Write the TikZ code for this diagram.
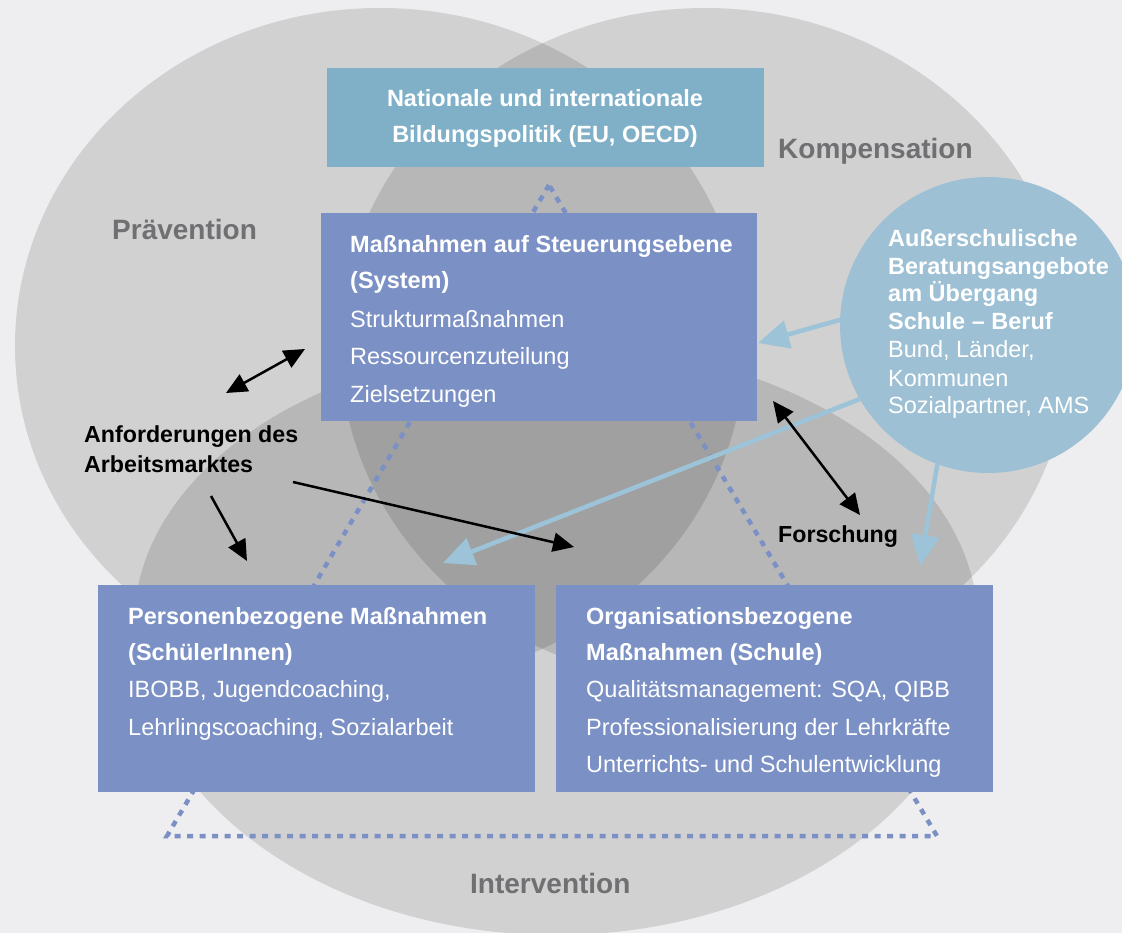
\documentclass[tikz,border=0pt]{standalone}
\usepackage{fontspec}
\setmainfont{Liberation Sans}
\usetikzlibrary{arrows.meta}
\definecolor{bgc}{HTML}{EEEEF0}
\definecolor{boxc}{HTML}{7B90C4}
\definecolor{natc}{HTML}{80B0C8}
\definecolor{ausc}{HTML}{9DC0D4}
\definecolor{lblue}{HTML}{9CC3D8}
\definecolor{grayt}{HTML}{707072}
\begin{document}
\begin{tikzpicture}[x=1pt,y=-1pt,
  venn/.style={fill=black, fill opacity=0.12},
  boxn/.style={fill=boxc, draw=none, inner sep=0pt, outer sep=0pt, anchor=north west},
  hd/.style={text=white, font=\fontsize{23.5}{28}\selectfont\bfseries, anchor=base west, inner sep=0pt},
  hdc/.style={hd, anchor=base},
  tx/.style={text=white, font=\fontsize{23.5}{28}\selectfont, anchor=base west, inner sep=0pt},
  grayl/.style={text=grayt, font=\fontsize{28}{32}\selectfont\bfseries, anchor=base west, inner sep=0pt},
  blk/.style={text=black, font=\fontsize{23.2}{28}\selectfont\bfseries, anchor=base west, inner sep=0pt},
  tri/.style={draw=boxc, line width=4.5pt, dash pattern=on 6pt off 6.5pt},
  barr/.style={draw=black, line width=2.5pt, -{Triangle[length=21pt,width=19pt]}},
  bbarr/.style={draw=black, line width=2.5pt, {Triangle[length=21pt,width=19pt]}-{Triangle[length=21pt,width=19pt]}},
  larr/.style={draw=lblue, line width=4.5pt, -{Triangle[length=31pt,width=28pt]}}
]
\useasboundingbox (0,0) rectangle (1122,933);
\fill[bgc] (0,0) rectangle (1122,933);
\clip (0,0) rectangle (1122,933);

% Venn shapes
\fill[venn] (380,346) ellipse [x radius=365, y radius=338];
\fill[venn] (705,346) ellipse [x radius=365, y radius=338];
\fill[venn] (134,625) arc[start angle=180, end angle=360, x radius=422, y radius=280]
   arc[start angle=0, end angle=180, x radius=422, y radius=310] -- cycle;

% Ausserschulische circle
\node[circle, fill=ausc, draw=none, minimum size=296pt, inner sep=0pt, outer sep=0pt] (aus) at (988,325) {};

% dotted triangle
\draw[tri] (549,185) -- (167,836) -- (937,836) -- cycle;

% coordinates for free arrow ends
\coordinate (p1) at (226,393);
\coordinate (p2) at (305,349);
\coordinate (p3) at (211,496);
\coordinate (p4) at (247,561);
\coordinate (p5) at (293,482);
\coordinate (p6) at (574,547);
\coordinate (p7) at (773,401);
\coordinate (p8) at (860,515);
\coordinate (q1) at (758,343);
\coordinate (q2) at (443,563);
\coordinate (q3) at (920,566);

% light blue arrows
\draw[larr] (aus.178.8) -- (q1);
\draw[larr] (aus.210.8) -- (q2);
\draw[larr] (aus.250.8) -- (q3);

% black arrows
\draw[bbarr] (p1) -- (p2);
\draw[barr] (p3) -- (p4);
\draw[barr] (p5) -- (p6);
\draw[bbarr] (p7) -- (p8);

% boxes
\node[boxn, fill=natc, minimum width=437pt, minimum height=99pt] (nat) at (327,68) {};
\node[boxn, minimum width=436pt, minimum height=208pt] (steu) at (321,213) {};
\node[boxn, minimum width=437pt, minimum height=207pt] (pers) at (98,585) {};
\node[boxn, minimum width=437pt, minimum height=207pt] (orga) at (556,585) {};

% texts
\node[hdc] (n1) at (545,107) {Nationale und internationale};
\node[hdc] (n2) at (545,143) {Bildungspolitik (EU, OECD)};

\node[hd] (s1) at (350,253) {Maßnahmen auf Steuerungsebene};
\node[hd] (s2) at (350,289) {(System)};
\node[tx] (s3) at (350,327) {Strukturmaßnahmen};
\node[tx] (s4) at (350,364) {Ressourcenzuteilung};
\node[tx] (s5) at (350,402) {Zielsetzungen};

\node[hd] (r1) at (128,624) {Personenbezogene Maßnahmen};
\node[hd] (r2) at (128,660) {(SchülerInnen)};
\node[tx] (r3) at (128,697) {IBOBB, Jugendcoaching,};
\node[tx] (r4) at (128,735) {Lehrlingscoaching, Sozialarbeit};

\node[hd] (o1) at (586,624) {Organisationsbezogene};
\node[hd] (o2) at (586,660) {Maßnahmen (Schule)};
\node[tx] (o3) at (586,697) {Qualitätsmanagement: SQA, QIBB};
\node[tx] (o4) at (586,735) {Professionalisierung der Lehrkräfte};
\node[tx] (o5) at (586,772) {Unterrichts- und Schulentwicklung};

\node[hd] (u1) at (888,247) {Außerschulische};
\node[hd] (u2) at (888,275) {Beratungsangebote};
\node[hd] (u3) at (888,302) {am Übergang};
\node[hd] (u4) at (888,330) {Schule – Beruf};
\node[tx] (u5) at (888,358) {Bund, Länder,};
\node[tx] (u6) at (888,386) {Kommunen};
\node[tx] (u7) at (888,413) {Sozialpartner, AMS};

\node[grayl] (g1) at (112,240) {Prävention};
\node[grayl] (g2) at (778,159) {Kompensation};
\node[grayl] (g3) at (470,893) {Intervention};

\node[blk] (k1) at (84,442) {Anforderungen des};
\node[blk] (k2) at (84,472) {Arbeitsmarktes};
\node[blk] (k3) at (778,542) {Forschung};
\end{tikzpicture}
\end{document}
